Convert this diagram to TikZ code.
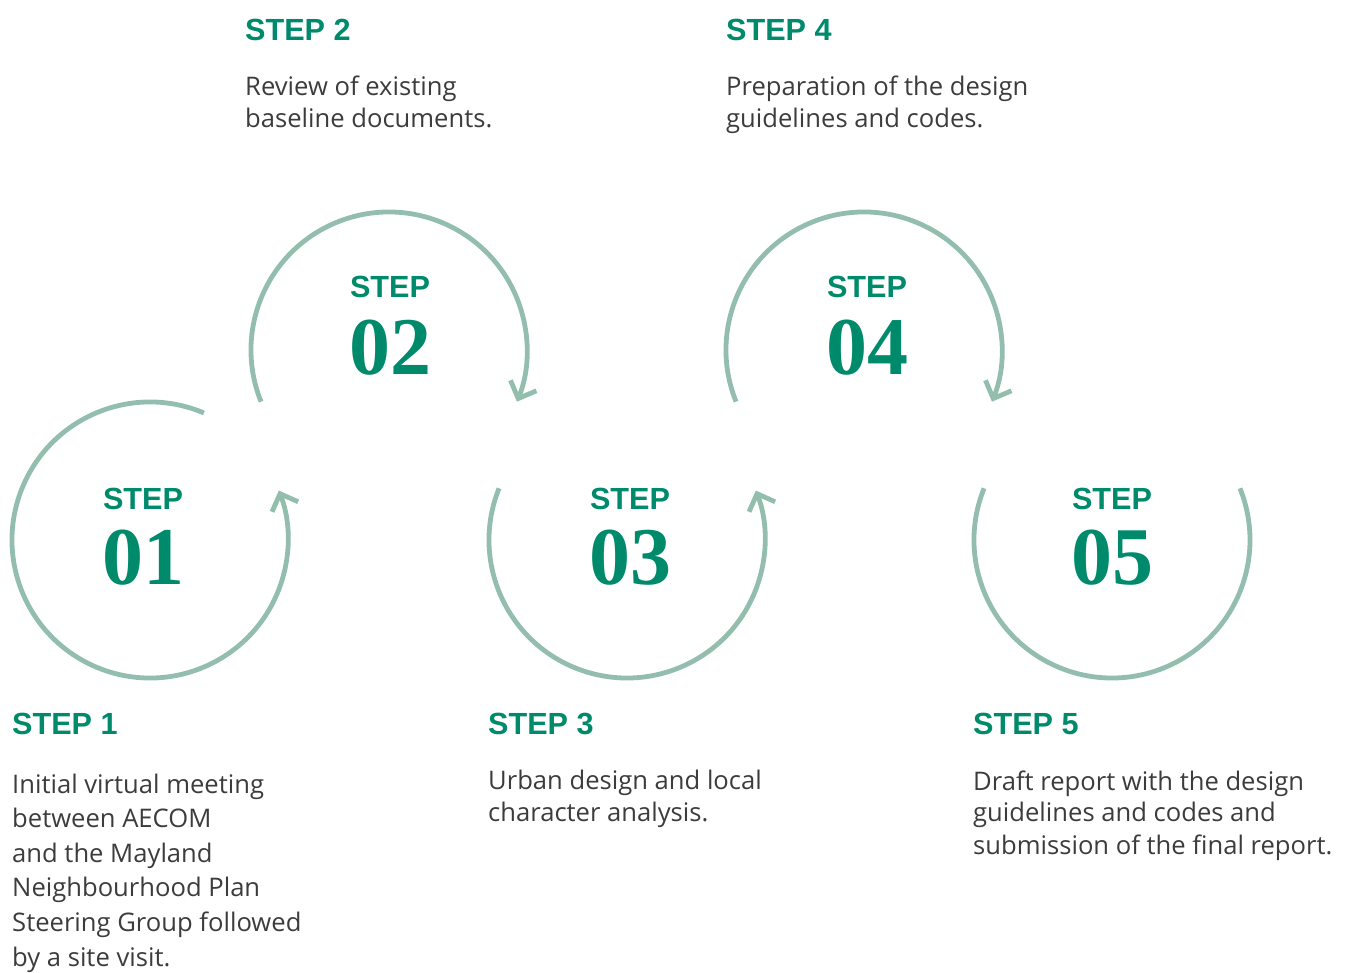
\documentclass[tikz,border=0pt]{standalone}
\usepackage{fontspec}
\setmainfont{Open Sans}
\newfontfamily\headfont{Liberation Sans}
\newfontfamily\numfont{Liberation Serif}
\usetikzlibrary{positioning,arrows.meta}

\definecolor{ringgreen}{HTML}{93BEAD}
\definecolor{stepgreen}{HTML}{008A6C}
\definecolor{bodygrey}{HTML}{3C3C3C}

\tikzset{
  ring/.style={draw=ringgreen,line width=4.8pt},
  ringarrow/.style={ring,-{Straight Barb[length=14pt,width=28pt]}},
  steplabel/.style={font=\headfont\bfseries\fontsize{30.6}{36}\selectfont,text=stepgreen,inner sep=0pt},
  stepnum/.style={font=\numfont\bfseries\fontsize{82}{90}\selectfont,text=stepgreen,inner sep=0pt,anchor=base},
  stepheading/.style={steplabel,anchor=base west},
  stepbody/.style={font=\fontsize{25.6}{32}\selectfont,text=bodygrey,align=left,anchor=base west,inner sep=0pt},
}

\begin{document}
\begin{tikzpicture}[x=1pt,y=1pt]
\useasboundingbox (0,0) rectangle (1346,972);

% circle centres
\coordinate (c1) at (150,432);
\coordinate (c2) at (389,622);
\coordinate (c3) at (627,432);
\coordinate (c4) at (864,622);
\coordinate (c5) at (1112,432);

% rings
\draw[ringarrow] ([shift={(67:138)}]c1) arc[start angle=67,end angle=381,radius=138];
\draw[ringarrow] ([shift={(202:138)}]c2) arc[start angle=202,end angle=-22,radius=138];
\draw[ringarrow] ([shift={(158:138)}]c3) arc[start angle=158,end angle=381,radius=138];
\draw[ringarrow] ([shift={(202:138)}]c4) arc[start angle=202,end angle=-22,radius=138];
\draw[ring] ([shift={(158:138)}]c5) arc[start angle=158,end angle=382,radius=138];

% labels in the rings
\node[steplabel,anchor=base] (s1) at (143,462) {STEP};
\node[stepnum] (n1) at (143,387) {01};
\node[steplabel,anchor=base] (s2) at (390,674) {STEP};
\node[stepnum] (n2) at (390,597) {02};
\node[steplabel,anchor=base] (s3) at (630,462) {STEP};
\node[stepnum] (n3) at (630,387) {03};
\node[steplabel,anchor=base] (s4) at (867,674) {STEP};
\node[stepnum] (n4) at (867,597) {04};
\node[steplabel,anchor=base] (s5) at (1112,462) {STEP};
\node[stepnum] (n5) at (1112,387) {05};

% headings and descriptions (base = last line)
\node[stepheading] (h1) at (12,237) {STEP 1};
\node[stepbody,font=\fontsize{25.6}{34.6}\selectfont] (t1) at (12,6) {Initial virtual meeting\\between AECOM\\and the Mayland\\Neighbourhood Plan\\Steering Group followed\\by a site visit.};
\node[stepheading] (h2) at (245,931) {STEP 2};
\node[stepbody] (t2) at (245,844) {Review of existing\\baseline documents.};
\node[stepheading] (h3) at (488,237) {STEP 3};
\node[stepbody] (t3) at (488,150) {Urban design and local\\character analysis.};
\node[stepheading] (h4) at (726,931) {STEP 4};
\node[stepbody] (t4) at (726,844) {Preparation of the design\\guidelines and codes.};
\node[stepheading] (h5) at (973,237) {STEP 5};
\node[stepbody] (t5) at (973,118) {Draft report with the design\\guidelines and codes and\\submission of the final report.};

\end{tikzpicture}
\end{document}
